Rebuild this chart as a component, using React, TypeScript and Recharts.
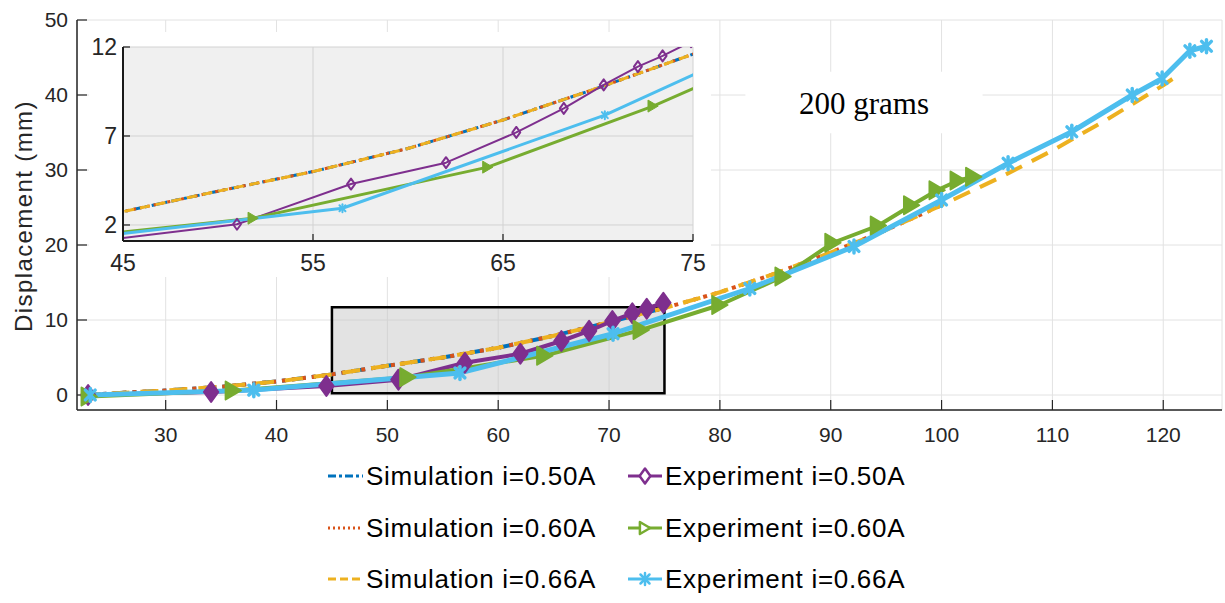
import React from 'react';
import { LineChart, Line, XAxis, YAxis, CartesianGrid, ReferenceArea } from 'recharts';

// ---------- data ----------
const simX050 = [22.5, 25, 30, 35, 40, 45, 50, 55, 60, 65, 70, 75];
const simY050 = [0, 0.2, 0.6, 1.1, 1.8, 2.75, 3.9, 5.0, 6.3, 7.9, 9.7, 11.6];
const simX060 = [22.5, 25, 30, 35, 40, 45, 50, 55, 60, 65, 70, 75, 80, 85, 90, 95, 100];
const simY060 = [0, 0.2, 0.6, 1.1, 1.8, 2.75, 3.9, 5.0, 6.3, 7.9, 9.7, 11.6, 13.7, 16.2, 19.0, 22.0, 25.3];
const simX066 = [22.5, 25, 30, 35, 40, 45, 50, 55, 60, 65, 70, 75, 80, 85, 90, 95, 100, 105, 110, 115, 120, 121];
const simY066 = [0, 0.2, 0.6, 1.1, 1.8, 2.75, 3.9, 5.0, 6.3, 7.9, 9.7, 11.6, 13.7, 16.2, 19.0, 22.0, 25.3, 28.8, 32.6, 36.8, 41.3, 42.3];

const expX050 = [23.0, 34.1, 44.5, 51.0, 57.0, 62.0, 65.7, 68.2, 70.3, 72.1, 73.4, 74.9];
const expY050 = [0, 0.4, 1.2, 2.04, 4.3, 5.5, 7.2, 8.55, 9.87, 10.9, 11.5, 12.3];
const expX060 = [23.1, 36.1, 51.85, 64.2, 72.9, 80.0, 85.7, 90.2, 94.3, 97.3, 99.6, 101.5, 102.9];
const expY060 = [-0.2, 0.6, 2.38, 5.25, 8.68, 12.0, 15.8, 20.3, 22.6, 25.3, 27.3, 28.6, 29.1];
const expX066 = [23.2, 37.95, 56.55, 70.36, 82.7, 92.1, 100.0, 106.0, 111.75, 117.2, 119.9, 122.4, 123.9];
const expY066 = [0, 0.65, 2.94, 8.17, 14.2, 19.8, 26.0, 30.9, 35.1, 40.0, 42.2, 45.9, 46.5];

const mainXTicks = [30, 40, 50, 60, 70, 80, 90, 100, 110, 120];
const mainYTicks = [0, 10, 20, 30, 40, 50];
const insetXTicks = [45, 55, 65, 75];
const insetYTicks = [2, 7, 12];

const seriesNames = [
  'Simulation i=0.50A',
  'Simulation i=0.60A',
  'Simulation i=0.66A',
  'Experiment i=0.50A',
  'Experiment i=0.60A',
  'Experiment i=0.66A',
];

const pts = (xs: number[], ys: number[]) => xs.map((x, i) => ({ x, y: ys[i] }));

type Kind = 'none' | 'diamond' | 'triangle' | 'star';

interface Style {
  color: string;
  width: number;
  dash?: string;
  kind: Kind;
  msize: number;
  mfill: string;
  msw: number;
}

interface Series {
  name: string;
  data: { x: number; y: number }[];
  main: Style;
  inset: Style;
  legend: Style;
}

const BLUE = '#0072BD';
const RED = '#D95319';
const YEL = '#EDB120';
const PUR = '#7E2F8E';
const GRN = '#77AC30';
const CYA = '#4DBEEE';

const series: Series[] = [
  {
    name: seriesNames[0],
    data: pts(simX050, simY050),
    main: { color: BLUE, width: 4, dash: '14 6 4 6', kind: 'none', msize: 0, mfill: 'none', msw: 0 },
    inset: { color: BLUE, width: 3, dash: '9 4 3 4', kind: 'none', msize: 0, mfill: 'none', msw: 0 },
    legend: { color: BLUE, width: 3, dash: '8 3 3 3', kind: 'none', msize: 0, mfill: 'none', msw: 0 },
  },
  {
    name: seriesNames[1],
    data: pts(simX060, simY060),
    main: { color: RED, width: 4, dash: '4 6', kind: 'none', msize: 0, mfill: 'none', msw: 0 },
    inset: { color: RED, width: 3, dash: '3 4', kind: 'none', msize: 0, mfill: 'none', msw: 0 },
    legend: { color: RED, width: 3, dash: '2 3', kind: 'none', msize: 0, mfill: 'none', msw: 0 },
  },
  {
    name: seriesNames[2],
    data: pts(simX066, simY066),
    main: { color: YEL, width: 4, dash: '18 11', kind: 'none', msize: 0, mfill: 'none', msw: 0 },
    inset: { color: YEL, width: 3, dash: '10 6', kind: 'none', msize: 0, mfill: 'none', msw: 0 },
    legend: { color: YEL, width: 3, dash: '8 4', kind: 'none', msize: 0, mfill: 'none', msw: 0 },
  },
  {
    name: seriesNames[3],
    data: pts(expX050, expY050),
    main: { color: PUR, width: 4, kind: 'diamond', msize: 10, mfill: PUR, msw: 2 },
    inset: { color: PUR, width: 2, kind: 'diamond', msize: 5.5, mfill: 'none', msw: 2 },
    legend: { color: PUR, width: 3, kind: 'diamond', msize: 7.5, mfill: '#fff', msw: 2.5 },
  },
  {
    name: seriesNames[4],
    data: pts(expX060, expY060),
    main: { color: GRN, width: 4, kind: 'triangle', msize: 9, mfill: GRN, msw: 2 },
    inset: { color: GRN, width: 3, kind: 'triangle', msize: 6, mfill: GRN, msw: 1 },
    legend: { color: GRN, width: 3, kind: 'triangle', msize: 6, mfill: '#fff', msw: 2.5 },
  },
  {
    name: seriesNames[5],
    data: pts(expX066, expY066),
    main: { color: CYA, width: 5, kind: 'star', msize: 6.5, mfill: CYA, msw: 3.5 },
    inset: { color: CYA, width: 3, kind: 'star', msize: 4, mfill: CYA, msw: 2 },
    legend: { color: CYA, width: 3, kind: 'star', msize: 6, mfill: CYA, msw: 2.5 },
  },
];

// ---------- markers ----------
function Marker({ cx, cy, st }: { cx: number; cy: number; st: Style }) {
  const s = st.msize;
  if (st.kind === 'diamond') {
    const hw = s * 0.72;
    return (
      <path
        d={`M${cx},${cy - s}L${cx + hw},${cy}L${cx},${cy + s}L${cx - hw},${cy}Z`}
        fill={st.mfill}
        stroke={st.color}
        strokeWidth={st.msw}
        strokeLinejoin="round"
      />
    );
  }
  if (st.kind === 'triangle') {
    const l = s * 1.7;
    return (
      <path
        d={`M${cx - l / 2},${cy - s}L${cx + l / 2},${cy}L${cx - l / 2},${cy + s}Z`}
        fill={st.mfill}
        stroke={st.color}
        strokeWidth={st.msw}
        strokeLinejoin="round"
      />
    );
  }
  if (st.kind === 'star') {
    const d = s * 0.75;
    return (
      <g stroke={st.color} strokeWidth={st.msw} strokeLinecap="round">
        <line x1={cx - d} y1={cy - d} x2={cx + d} y2={cy + d} />
        <line x1={cx - d} y1={cy + d} x2={cx + d} y2={cy - d} />
        <line x1={cx} y1={cy - s} x2={cx} y2={cy + s} />
      </g>
    );
  }
  return null;
}

const makeDot = (st: Style, prefix: string) => {
  if (st.kind === 'none') return false;
  return (p: any) => {
    if (p == null || p.cx == null || p.cy == null) return <g key={`${prefix}-${p?.index}`} />;
    return (
      <g key={`${prefix}-${p.index}`}>
        <Marker cx={p.cx} cy={p.cy} st={st} />
      </g>
    );
  };
};

const FONT = "'Liberation Sans', Arial, Helvetica, sans-serif";
const AX = '#262626';

export default function App() {
  return (
    <div style={{ position: 'absolute', left: 0, top: 0, width: 1225, height: 603, background: '#fff', overflow: 'hidden' }}>
      {/* main chart */}
      <div style={{ position: 'absolute', left: 0, top: 0 }}>
        <LineChart width={1225} height={603} margin={{ top: 20, right: 3, bottom: 163, left: 0 }}>
          <CartesianGrid stroke="#e2e2e2" strokeWidth={1} />
          <XAxis
            dataKey="x"
            type="number"
            domain={[22, 125.3]}
            ticks={mainXTicks}
            interval={0}
            allowDataOverflow
            height={30}
            tickSize={-10}
            tickMargin={27}
            axisLine={{ stroke: AX, strokeWidth: 1.5 }}
            tickLine={{ stroke: AX, strokeWidth: 1.2 }}
            tick={{ fontSize: 21, fill: AX, fontFamily: FONT }}
          />
          <XAxis
            xAxisId="top"
            orientation="top"
            dataKey="x"
            type="number"
            domain={[22, 125.3]}
            ticks={mainXTicks}
            interval={0}
            allowDataOverflow
            height={0}
            tickSize={-10}
            tickMargin={0}
            tickFormatter={() => ''}
            axisLine={{ stroke: AX, strokeWidth: 1.5 }}
            tickLine={{ stroke: AX, strokeWidth: 1.2 }}
          />
          <YAxis
            type="number"
            domain={[-2, 50]}
            ticks={mainYTicks}
            interval={0}
            allowDataOverflow
            width={77}
            tickSize={-10}
            tickMargin={19}
            axisLine={{ stroke: AX, strokeWidth: 1.5 }}
            tickLine={{ stroke: AX, strokeWidth: 1.2 }}
            tick={{ fontSize: 21, fill: AX, fontFamily: FONT }}
            label={{
              content: () => (
                <text
                  x={23}
                  y={216}
                  transform="rotate(-90 23 216)"
                  textAnchor="middle"
                  dominantBaseline="central"
                  fontSize={24}
                  letterSpacing={1.4}
                  fill={AX}
                  fontFamily={FONT}
                >
                  Displacement (mm)
                </text>
              ),
            }}
          />
          <YAxis
            yAxisId="right"
            orientation="right"
            type="number"
            domain={[-2, 50]}
            ticks={mainYTicks}
            interval={0}
            allowDataOverflow
            width={0}
            tickSize={-10}
            tickMargin={0}
            tickFormatter={() => ''}
            axisLine={{ stroke: AX, strokeWidth: 1.5 }}
            tickLine={{ stroke: AX, strokeWidth: 1.2 }}
          />
          <ReferenceArea
            x1={45}
            x2={75}
            y1={0.25}
            y2={11.7}
            fill="#c4c4c4"
            fillOpacity={0.47}
            stroke="#000"
            strokeWidth={2.5}
            ifOverflow="visible"
          />
          <ReferenceArea
            x1={82.3}
            x2={103.7}
            y1={34.9}
            y2={43.1}
            fill="#fff"
            fillOpacity={1}
            stroke="none"
            ifOverflow="visible"
            label={{
              value: '200 grams',
              position: 'center',
              fontSize: 31,
              fill: '#000',
              fontFamily: "'Liberation Serif', 'Times New Roman', serif",
            }}
          />
          {series.map((s) => (
            <Line
              key={s.name}
              name={s.name}
              data={s.data}
              dataKey="y"
              type="linear"
              stroke={s.main.color}
              strokeWidth={s.main.width}
              strokeDasharray={s.main.dash}
              strokeLinejoin="round"
              dot={makeDot(s.main, 'm' + s.name) as any}
              activeDot={false}
              isAnimationActive={false}
              legendType="none"
            />
          ))}
        </LineChart>
      </div>

      {/* inset chart */}
      <div style={{ position: 'absolute', left: 89, top: 32, width: 622, height: 245, background: '#fff' }}>
        <LineChart width={622} height={245} margin={{ top: 15, right: 18, bottom: 0, left: 0 }}>
          <CartesianGrid stroke="#d2d2d2" strokeWidth={1} fill="#f0f0f0" fillOpacity={1} />
          <XAxis
            dataKey="x"
            type="number"
            domain={[45, 75]}
            ticks={insetXTicks}
            interval={0}
            allowDataOverflow
            height={36}
            tickSize={-7}
            tickMargin={21}
            axisLine={{ stroke: '#1a1a1a', strokeWidth: 2 }}
            tickLine={{ stroke: '#1a1a1a', strokeWidth: 1.2 }}
            tick={{ fontSize: 23, fill: AX, fontFamily: FONT }}
          />
          <XAxis
            xAxisId="top"
            orientation="top"
            dataKey="x"
            type="number"
            domain={[45, 75]}
            ticks={insetXTicks}
            interval={0}
            allowDataOverflow
            height={0}
            tickSize={-7}
            tickMargin={0}
            tickFormatter={() => ''}
            axisLine={{ stroke: '#1a1a1a', strokeWidth: 2 }}
            tickLine={{ stroke: '#1a1a1a', strokeWidth: 1.2 }}
          />
          <YAxis
            type="number"
            domain={[1.1, 12]}
            ticks={insetYTicks}
            interval={0}
            allowDataOverflow
            width={34}
            tickSize={-7}
            tickMargin={13}
            axisLine={{ stroke: '#1a1a1a', strokeWidth: 2 }}
            tickLine={{ stroke: '#1a1a1a', strokeWidth: 1.2 }}
            tick={{ fontSize: 23, fill: AX, fontFamily: FONT }}
          />
          <YAxis
            yAxisId="right"
            orientation="right"
            type="number"
            domain={[1.1, 12]}
            ticks={insetYTicks}
            interval={0}
            allowDataOverflow
            width={0}
            tickSize={-7}
            tickMargin={0}
            tickFormatter={() => ''}
            axisLine={{ stroke: '#1a1a1a', strokeWidth: 2 }}
            tickLine={{ stroke: '#1a1a1a', strokeWidth: 1.2 }}
          />
          {series.map((s) => (
            <Line
              key={s.name}
              name={s.name}
              data={s.data}
              dataKey="y"
              type="linear"
              stroke={s.inset.color}
              strokeWidth={s.inset.width}
              strokeDasharray={s.inset.dash}
              strokeLinejoin="round"
              dot={makeDot(s.inset, 'i' + s.name) as any}
              activeDot={false}
              isAnimationActive={false}
              legendType="none"
            />
          ))}
        </LineChart>
      </div>

      {/* legend */}
      {series.map((s, i) => {
        const col = i < 3 ? 0 : 1;
        const row = i % 3;
        const left = col === 0 ? 328 : 628;
        const cy = [476, 528, 579][row];
        const w = col === 0 ? 35 : 34;
        return (
          <div
            key={'lg' + s.name}
            style={{
              position: 'absolute',
              left,
              top: cy - 20,
              height: 40,
              display: 'flex',
              alignItems: 'center',
              whiteSpace: 'nowrap',
            }}
          >
            <svg width={w} height={40} style={{ display: 'block' }}>
              <line
                x1={0}
                y1={20}
                x2={w}
                y2={20}
                stroke={s.legend.color}
                strokeWidth={s.legend.width}
                strokeDasharray={s.legend.dash}
              />
              <Marker cx={w / 2} cy={20} st={s.legend} />
            </svg>
            <span
              style={{
                marginLeft: 3,
                fontFamily: FONT,
                fontSize: 26,
                letterSpacing: 0.7,
                color: '#000',
                lineHeight: '40px',
              }}
            >
              {s.name}
            </span>
          </div>
        );
      })}
    </div>
  );
}
